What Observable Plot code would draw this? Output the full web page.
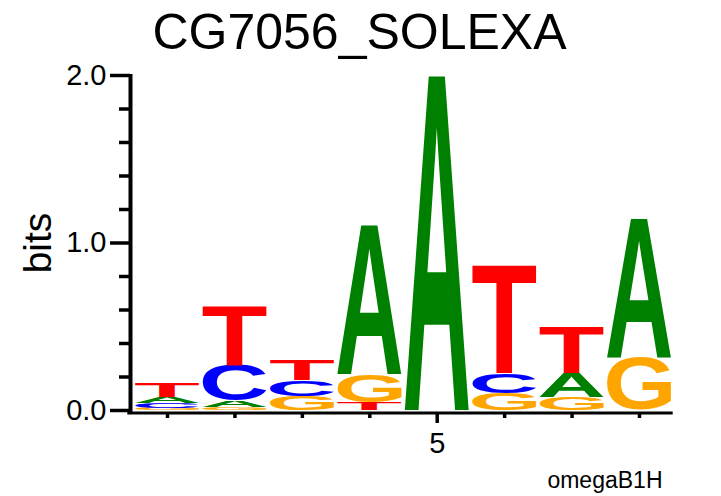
<!DOCTYPE html>
<html><head><meta charset="utf-8">
<script src="https://cdn.jsdelivr.net/npm/d3@7"></script>
<script src="https://cdn.jsdelivr.net/npm/@observablehq/plot@0.6"></script>
<style>body{margin:0;background:#fff}</style>
</head><body><div id="chart"></div>
<script>
const positions = [1, 2, 3, 4, 5, 6, 7, 8];
const bitsA = [0.035, 0.040, 0.000, 0.880, 1.990, 0.000, 0.143, 0.820];
const bitsC = [0.030, 0.215, 0.094, 0.000, 0.000, 0.120, 0.000, 0.000];
const bitsG = [0.012, 0.015, 0.085, 0.167, 0.000, 0.100, 0.080, 0.317];
const bitsT = [0.084, 0.350, 0.122, 0.048, 0.000, 0.643, 0.273, 0.000];
const letters = ["A", "C", "G", "T"];
const letterColors = {A: "#008000", C: "#0000ff", G: "#ffa500", T: "#ff0000"};
const yMajorTicks = [0, 1, 2];
const yMinorTicks = [0.2, 0.4, 0.6, 0.8, 1.2, 1.4, 1.6, 1.8];
const xLabelTicks = [5];
const xMinorTicks = [1, 2, 3, 4, 6, 7, 8];
const title = "CG7056_SOLEXA";
const yLabel = "bits";
const footnote = "omegaB1H";

const FONT = "'Liberation Sans', Arial, Helvetica, sans-serif";
const GLYPH_SIZE = 400;

// build stacks: smallest letter at bottom, largest on top
const bitsBy = {A: bitsA, C: bitsC, G: bitsG, T: bitsT};
const stacks = [];
positions.forEach((pos, i) => {
  const col = letters.map(l => ({letter: l, bits: bitsBy[l][i]})).filter(d => d.bits > 0)
    .sort((a, b) => a.bits - b.bits);
  let acc = 0;
  for (const d of col) {
    stacks.push({pos, letter: d.letter, y1: acc, y2: acc + d.bits});
    acc += d.bits;
  }
});

// glyph ink metrics, found by scanning the rendered glyph's pixels
const CW = 640, CH = 640, OX = 100, OY = 500;
const canvas = document.createElement("canvas");
canvas.width = CW; canvas.height = CH;
const ctx = canvas.getContext("2d", {willReadFrequently: true});
const inkCache = {};
function ink(ch) {
  if (inkCache[ch]) return inkCache[ch];
  ctx.clearRect(0, 0, CW, CH);
  ctx.font = `bold ${GLYPH_SIZE}px ${FONT}`;
  ctx.textAlign = "left";
  ctx.textBaseline = "alphabetic";
  ctx.fillStyle = "#000";
  ctx.fillText(ch, OX, OY);
  const data = ctx.getImageData(0, 0, CW, CH).data;
  let minX = CW, maxX = -1, minY = CH, maxY = -1;
  for (let yy = 0; yy < CH; yy++) {
    for (let xx = 0; xx < CW; xx++) {
      if (data[(yy * CW + xx) * 4 + 3] > 127) {
        if (xx < minX) minX = xx;
        if (xx > maxX) maxX = xx;
        if (yy < minY) minY = yy;
        if (yy > maxY) maxY = yy;
      }
    }
  }
  const m = {l: OX - minX, r: maxX + 1 - OX, a: OY - minY, d: maxY + 1 - OY};
  inkCache[ch] = m;
  return m;
}

// custom mark: letters stretched into their stack cells via Plot's scales
function logoMark(index, scales) {
  const {x, y} = scales;
  const g = d3.create("svg:g").attr("class", "logo").attr("text-anchor", "start");
  const colW = x(1.5) - x(0.5);
  const letterW = colW * 0.945;
  for (const s of stacks) {
    const cx = x(s.pos);
    const top = y(s.y2), bottom = y(s.y1);
    const h = bottom - top;
    const m = ink(s.letter);
    const sx = letterW / (m.l + m.r), sy = h / (m.a + m.d);
    g.append("text")
      .attr("text-anchor", "start")
      .attr("font-family", FONT)
      .attr("font-weight", "bold")
      .attr("font-size", GLYPH_SIZE)
      .attr("fill", letterColors[s.letter])
      .attr("transform", `translate(${cx - letterW / 2},${top}) scale(${sx},${sy}) translate(${m.l},${m.a})`)
      .text(s.letter);
  }
  return g.node();
}

const chart = Plot.plot({
  width: 721,
  height: 496,
  marginTop: 75,
  marginBottom: 86,
  marginLeft: 133.3,
  marginRight: 48.3,
  style: {fontFamily: FONT, background: "#fff", color: "#000"},
  x: {domain: [0.5, 8.5]},
  y: {domain: [0, 2]},
  marks: [
    logoMark,
    // y axis
    Plot.axisY({ticks: yMajorTicks, tickSize: 20, tickPadding: 4, dx: -3.3, strokeWidth: 3.5,
      tickFormat: d3.format(".1f"), fontSize: 29, label: null}),
    Plot.axisY({ticks: yMinorTicks, tickSize: 11, dx: -3.3, strokeWidth: 3.5, tickFormat: () => "", label: null}),
    Plot.ruleX([0.5], {dx: -3.3, strokeWidth: 4, insetTop: -1, insetBottom: -4}),
    // x axis
    Plot.ruleY([0], {dy: 2.5, strokeWidth: 3, insetLeft: -6}),
    Plot.axisX({ticks: xLabelTicks, tickSize: 9, tickPadding: 9, dy: 4, strokeWidth: 3.5,
      fontSize: 29, label: null}),
    Plot.axisX({ticks: xMinorTicks, tickSize: 4, dy: 4, strokeWidth: 3.5, tickFormat: () => "", label: null}),
    // texts
    Plot.text([title], {text: d => d, frameAnchor: "top-left", dx: 225.7, dy: -27,
      textAnchor: "middle", lineAnchor: "bottom", fontSize: 50}),
    Plot.text([yLabel], {text: d => d, frameAnchor: "left", dx: -83.3, rotate: -90,
      textAnchor: "middle", lineAnchor: "bottom", fontSize: 39}),
    Plot.text([footnote], {text: d => d, frameAnchor: "bottom-right", dx: -10.7, dy: 77,
      textAnchor: "end", lineAnchor: "bottom", fontSize: 23})
  ]
});
document.getElementById("chart").appendChild(chart);
</script>
</body></html>
